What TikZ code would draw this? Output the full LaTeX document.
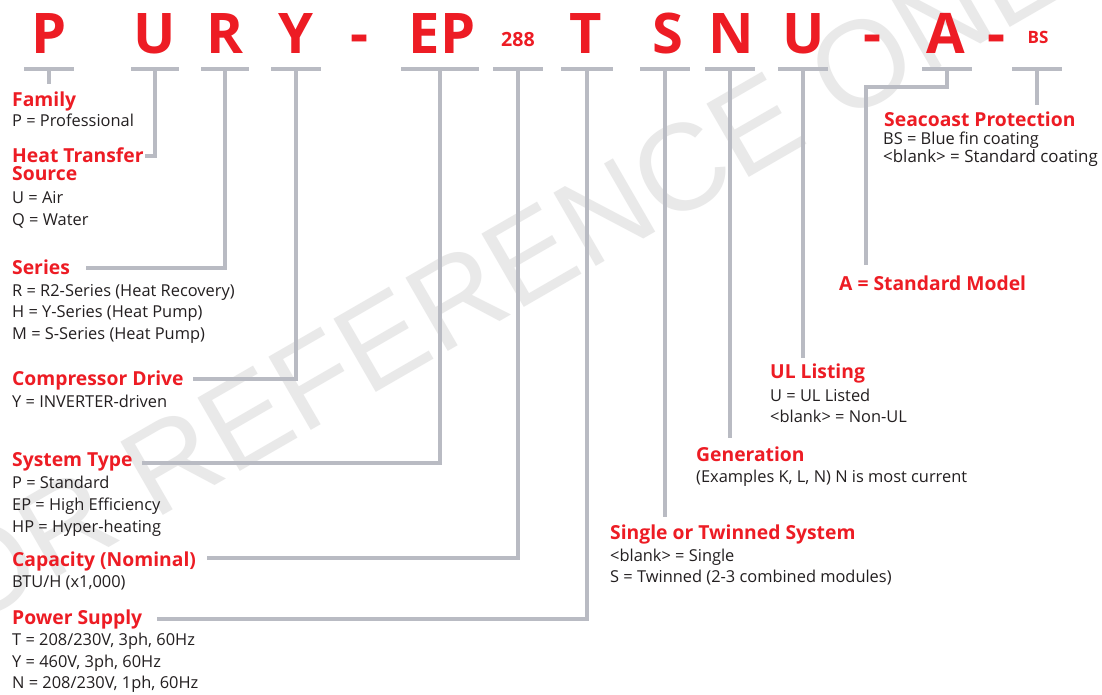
\documentclass[tikz,border=0pt]{standalone}
\usepackage{fontspec}
\setmainfont{Open Sans}
\newfontfamily\wmfont{Liberation Sans}
\definecolor{mred}{HTML}{ED1C24}
\definecolor{lgray}{HTML}{B9BBC3}
\definecolor{txt}{HTML}{231F20}
\definecolor{wmgray}{HTML}{E9E9E9}
\tikzset{
  head/.style={anchor=base west, inner sep=0pt, text=mred, font=\fontsize{19.3}{22}\selectfont\bfseries},
  body/.style={anchor=base west, inner sep=0pt, text=txt, font=\fontsize{16.4}{19}\selectfont},
  big/.style={anchor=base, inner sep=0pt, text=mred, font=\fontsize{56}{60}\selectfont\bfseries},
  small/.style={anchor=base, inner sep=0pt, text=mred, font=\fontsize{19.6}{22}\selectfont\bfseries},
  bar/.style={draw=lgray, line width=3.5pt},
  conn/.style={draw=lgray, line width=3.5pt, line join=miter},
}
\begin{document}
\begin{tikzpicture}[x=1pt,y=-1pt]
\useasboundingbox (0,0) rectangle (1102,694);
\fill[white] (0,0) rectangle (1102,694);
% watermark
\node[rotate=30, inner sep=0pt, text=wmgray, font=\fontsize{123}{130}\selectfont\wmfont] (wm) at (491,278) {FOR REFERENCE ONLY};

% big code letters
\node[big] (lP) at (49,53) {P};
\node[big] (lU) at (155,53) {U};
\node[big] (lR) at (225,53) {R};
\node[big] (lY) at (296,53) {Y};
\node[big] (d1) at (360,53) {-};
\node[big] (lEP) at (442,53) {EP};
\node[small] (l288) at (518,46) {288};
\node[big] (lT) at (586,53) {T};
\node[big] (lS) at (668,53) {S};
\node[big] (lN) at (731,53) {N};
\node[big] (lU2) at (804,53) {U};
\node[big] (d2) at (872,53) {-};
\node[big] (lA) at (946,53) {A};
\node[big] (d3) at (996,53) {-};
\node[small, font=\fontsize{17}{20}\selectfont\bfseries] (lBS) at (1038,43) {BS};

% bar centres
\coordinate (bP) at (49,69);
\coordinate (bU) at (155,69);
\coordinate (bR) at (225,69);
\coordinate (bY) at (296,69);
\coordinate (bEP) at (440,69);
\coordinate (b288) at (518,69);
\coordinate (bT) at (587,69);
\coordinate (bS) at (665,69);
\coordinate (bN) at (730,69);
\coordinate (bU2) at (803,69);
\coordinate (bA) at (947,69);
\coordinate (bBS) at (1037,69);

\foreach \c/\w in {bP/25,bU/24,bR/24,bY/25,bEP/39,b288/25,bT/26,bS/25,bN/25,bU2/25,bA/25,bBS/25}
  \draw[bar] ([xshift=-\w pt]\c) -- ([xshift=\w pt]\c);

% left labels
\node[head] (family) at (12,106) {Family};
\node[body] (familyA) at (12,126) {P = Professional};

\node[head] (heat) at (12,162) {Heat Transfer};
\node[head] (heatB) at (12,180) {Source};
\node[body] (heatA) at (12,203) {U = Air};
\node[body] (heatC) at (12,225) {Q = Water};

\node[head] (series) at (12,274) {Series};
\node[body] (seriesA) at (12,296) {R = R2-Series (Heat Recovery)};
\node[body] (seriesB) at (12,317) {H = Y-Series (Heat Pump)};
\node[body] (seriesC) at (12,339) {M = S-Series (Heat Pump)};

\node[head] (comp) at (12,385) {Compressor Drive};
\node[body] (compA) at (12,407) {Y = INVERTER-driven};

\node[head] (sys) at (12,466) {System Type};
\node[body] (sysA) at (12,488) {P = Standard};
\node[body] (sysB) at (12,510) {EP = High Efficiency};
\node[body] (sysC) at (12,532) {HP = Hyper-heating};

\node[head] (cap) at (12,566) {Capacity (Nominal)};
\node[body] (capA) at (12,587) {BTU/H (x1,000)};

\node[head] (pow) at (12,624) {Power Supply};
\node[body] (powA) at (12,645) {T = 208/230V, 3ph, 60Hz};
\node[body] (powB) at (12,667) {Y = 460V, 3ph, 60Hz};
\node[body] (powC) at (12,688) {N = 208/230V, 1ph, 60Hz};

% right labels
\node[head] (sea) at (884,126) {Seacoast Protection};
\node[body] (seaA) at (883,144) {BS = Blue fin coating};
\node[body, font=\fontsize{16.9}{19}\selectfont] (seaB) at (883,162) {<blank> = Standard coating};

\node[head] (std) at (839,290) {A = Standard Model};

\node[head] (ul) at (770,378) {UL Listing};
\node[body] (ulA) at (770,401) {U = UL Listed};
\node[body] (ulB) at (770,422) {<blank> = Non-UL};

\node[head] (gen) at (696,461) {Generation};
\node[body] (genA) at (696,482) {(Examples K, L, N) N is most current};

\node[head] (twin) at (610,539) {Single or Twinned System};
\node[body] (twinA) at (610,561) {<blank> = Single};
\node[body] (twinB) at (610,582) {S = Twinned (2-3 combined modules)};

% connector free ends
\coordinate (eP) at (49,84);
\coordinate (eU) at (145,156);
\coordinate (eR) at (86,268);
\coordinate (eY) at (193,379);
\coordinate (eEP) at (142,463);
\coordinate (e288) at (207,558);
\coordinate (eT) at (157,619);
\coordinate (eS) at (665,517);
\coordinate (eN) at (730,438);
\coordinate (eU2) at (803,358);
\coordinate (eAk) at (947,87);
\coordinate (eA) at (866,265);
\coordinate (eBS) at (1037,105);

% connectors
\draw[conn] (bP) -- (eP);
\draw[conn] (bU) |- (eU);
\draw[conn] (bR) |- (eR);
\draw[conn] (bY) |- (eY);
\draw[conn] (bEP) |- (eEP);
\draw[conn] (b288) |- (e288);
\draw[conn] (bT) |- (eT);
\draw[conn] (bS) -- (eS);
\draw[conn] (bN) -- (eN);
\draw[conn] (bU2) -- (eU2);
\draw[conn] (bA) -- (eAk) -| (eA);
\draw[conn] (bBS) -- (eBS);
\end{tikzpicture}
\end{document}
